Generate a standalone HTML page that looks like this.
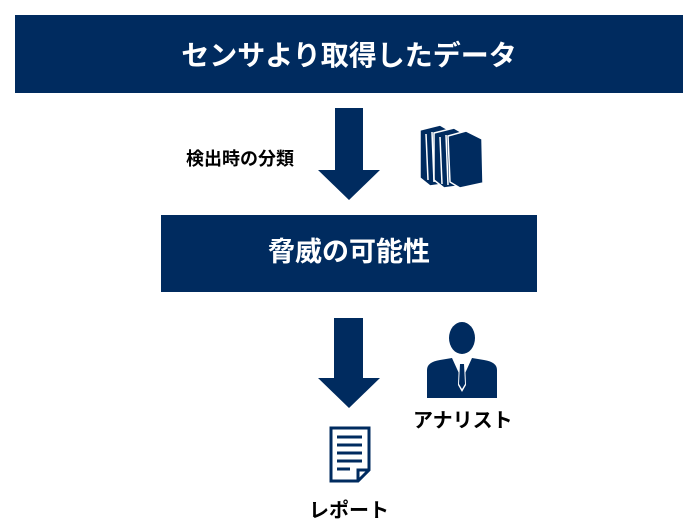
<!DOCTYPE html>
<html><head><meta charset="utf-8"><style>
body{margin:0;width:700px;height:527px;background:#fff;position:relative;overflow:hidden;font-family:"Liberation Sans","Noto Sans CJK JP",sans-serif;font-weight:bold}
.box{position:absolute;background:#002b5f;color:#fff;display:flex;align-items:center;justify-content:center}
.t{position:absolute;color:#000;white-space:nowrap}
</style></head><body>
<div class="box" style="left:15px;top:15px;width:668px;height:78px;font-size:28px">センサより取得したデータ</div>
<div class="box" style="left:161px;top:215px;width:376px;height:77px;font-size:27px;padding-bottom:8px;box-sizing:border-box">脅威の可能性</div>
<svg style="position:absolute;left:0;top:0" width="700" height="527">
<g fill="#002b5f">
<polygon points="335,108 363,108 363,170 380,170 349,200 318,170 335,170"/>
<polygon points="334,318 363,318 363,378 380,378 349,408 318,378 334,378"/>
<g stroke="#fff" stroke-width="1.5">
<polygon points="420,130 440,125 452,132 452,183 430,186 420,178"/>
<polygon points="434,133 454,128 466,135 466,185 444,188 434,180"/>
<polygon points="448,136 466,131 482,139 483,183 460,188 450,182"/>
<path d="M426,134 L428,180 M432,132 L434,182 M440,137 L442,184 M446,135 L448,185" fill="none"/>
</g>
<ellipse cx="462" cy="338" rx="13" ry="16"/>
<path d="M427,370 Q427,362 440,360 L452,358 L462,380 L472,358 L484,360 Q497,362 497,370 L497,398 L427,398Z"/>
<polygon points="459,362 465,362 466,385 462,392 458,385" fill="#fff"/>
<polygon points="460,364 464,364 465,384 462,389 459,384"/>
</g>
<g fill="none" stroke="#002b5f" stroke-width="3">
<path d="M331,428 L369,428 L369,470 L358,481 L331,481Z"/>
<path d="M337,437 H362 M337,445 H362 M337,453 H362 M337,461 H362 M337,469 H350"/>
<path d="M358,481 L358,470 L369,470"/>
</g>
</svg>
<div class="t" style="left:186px;top:145px;font-size:18px">検出時の分類</div>
<div class="t" style="left:413px;top:404px;font-size:20px">アナリスト</div>
<div class="t" style="left:309px;top:494px;font-size:20px">レポート</div>
</body></html>
